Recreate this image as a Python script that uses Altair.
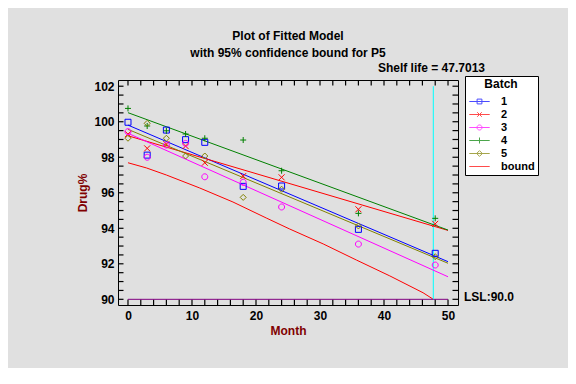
import altair as alt
import pandas as pd

# ---------------- data ----------------
months = [0, 3, 6, 9, 12, 18, 24, 36, 48]
batch_names = ["1", "2", "3", "4", "5"]
batch1 = [99.97, 98.12, 99.53, 98.99, 98.84, 96.36, 96.38, 93.94, 92.59]
batch2 = [99.30, 98.50, 98.74, 98.63, 97.69, 96.94, 96.87, 95.07, 94.25]
batch3 = [99.44, 98.00, 98.69, 98.78, 96.90, 96.59, 95.20, 93.11, 91.93]
batch4 = [100.75, 99.76, 99.49, 99.31, 99.07, 98.97, 97.24, 94.84, 94.56]
batch5 = [99.07, 99.91, 99.07, 98.07, 98.07, 95.74, 96.20, 94.13, 92.40]

fit_months = [0, 50]
fit_start = [99.81, 99.21, 99.35, 100.51, 99.57]   # fitted value at month 0
fit_end = [92.12, 93.88, 91.27, 93.90, 92.03]      # fitted value at month 50

bound_months = [0, 2.87, 6.0, 11.2, 16.4, 21.6, 25.2, 30.5, 35.7, 40.9, 46.1, 47.7013]
bound_values = [97.69, 97.40, 97.00, 96.27, 95.48, 94.58, 93.97, 93.12, 92.21, 91.32, 90.37, 90.0]

shelf_life = 47.7013
lsl = 90.0
legend_entries = ["1", "2", "3", "4", "5", "bound"]
x_ticks = [0, 10, 20, 30, 40, 50]
y_ticks = [90, 92, 94, 96, 98, 100, 102]
x_minor = [2 * i for i in range(26)]
y_minor = [90 + 0.5 * i for i in range(25)]

# ---------------- styling ----------------
FONT = "Liberation Sans"
colors = ["#0000ff", "#ff0000", "#ff00ff", "#008000", "#808000"]
bound_color = "#ff0000"
marker_paths = [
    "M-1,-1H1V1H-1Z",                       # square
    "M-1,-1L1,1M-1,1L1,-1",                 # x
    "M1,0A1,1,0,1,1,-1,0A1,1,0,1,1,1,0",     # circle
    "M-1,0H1M0,-1V1",                       # plus
    "M-1,0L0,-1L1,0L0,1Z",                  # diamond
]
L = "M-1.7,0H1.7"
legend_paths = [
    L + "M-0.4,-0.4H0.4V0.4H-0.4Z",
    L + "M-0.38,-0.38L0.38,0.38M-0.38,0.38L0.38,-0.38",
    L + "M0.42,0A0.42,0.42,0,1,1,-0.42,0A0.42,0.42,0,1,1,0.42,0",
    L + "M0,-0.5V0.5",
    L + "M-0.48,0L0,-0.48L0.48,0L0,0.48Z",
    L,
]

X_DOM = [-1.56, 51.56]
Y_DOM = [89.68, 102.35]
W, H = 340, 225
TICK = "#000000"

series = [batch1, batch2, batch3, batch4, batch5]
pts = pd.DataFrame(
    [{"Batch": b, "Month": m, "Drug": v}
     for b, vals in zip(batch_names, series) for m, v in zip(months, vals)]
)
fits = pd.DataFrame(
    [{"Batch": b, "Month": m, "Drug": v}
     for b, s, e in zip(batch_names, fit_start, fit_end) for m, v in zip(fit_months, [s, e])]
)
bound = pd.DataFrame({"Month": bound_months, "Drug": bound_values})
lsl_df = pd.DataFrame({"m0": [fit_months[0]], "m1": [fit_months[-1]], "v": [lsl]})
shelf_df = pd.DataFrame({"m": [shelf_life], "v0": [lsl], "v1": [102.0]})
leg_df = pd.DataFrame({"Batch": legend_entries})
xt_df = pd.DataFrame({"t": x_minor})
yt_df = pd.DataFrame({"t": y_minor})

NOAX = dict(axis=None)
layers = []

# bound curve (carries the labelled axes)
layers.append(
    alt.Chart(bound).mark_line(color=bound_color, strokeWidth=1).encode(
        x=alt.X("Month:Q", scale=alt.Scale(domain=X_DOM, nice=False, zero=False),
                axis=alt.Axis(values=x_ticks, ticks=False, domain=False, grid=False,
                              labelPadding=5, title="Month", titlePadding=4)),
        y=alt.Y("Drug:Q", scale=alt.Scale(domain=Y_DOM, nice=False, zero=False),
                axis=alt.Axis(values=y_ticks, ticks=False, domain=False,
                              grid=False, labelPadding=4, title="Drug%", titlePadding=4)),
    )
)

# inward tick marks on all four sides of the frame (clipped to the plot area)
for edge in (0, H):
    layers.append(
        alt.Chart(xt_df).mark_tick(color=TICK, thickness=1.2, size=11, clip=True, opacity=1)
        .encode(x=alt.X("t:Q", **NOAX), y=alt.value(edge))
    )
for edge in (0, W):
    layers.append(
        alt.Chart(yt_df).mark_tick(color=TICK, thickness=1.2, size=11, clip=True, opacity=1)
        .encode(y=alt.Y("t:Q", **NOAX), x=alt.value(edge))
    )

# LSL line and shelf-life line
layers.append(
    alt.Chart(lsl_df).mark_rule(color="#800080", strokeWidth=1).encode(
        x=alt.X("m0:Q", **NOAX), x2="m1:Q", y=alt.Y("v:Q", **NOAX))
)
layers.append(
    alt.Chart(shelf_df).mark_rule(color="#00ffff", strokeWidth=1).encode(
        x=alt.X("m:Q", **NOAX), y=alt.Y("v0:Q", **NOAX), y2="v1:Q")
)

for b, c in zip(batch_names, colors):
    layers.append(
        alt.Chart(fits).transform_filter(alt.datum.Batch == b).mark_line(color=c, strokeWidth=1)
        .encode(x=alt.X("Month:Q", **NOAX), y=alt.Y("Drug:Q", **NOAX))
    )
for b, c, p in zip(batch_names, colors, marker_paths):
    layers.append(
        alt.Chart(pts).transform_filter(alt.datum.Batch == b)
        .mark_point(shape=p, color=c, filled=False, size=36, strokeWidth=1, opacity=1)
        .encode(x=alt.X("Month:Q", **NOAX), y=alt.Y("Drug:Q", **NOAX))
    )

# annotations
layers.append(
    alt.Chart(pd.DataFrame({"t": [f"Shelf life = {shelf_life}"]})).mark_text(
        align="right", baseline="middle", dx=27, dy=-12, fontSize=12, fontWeight="bold", color="black"
    ).encode(x=alt.XDatum(X_DOM[1], axis=None), y=alt.YDatum(Y_DOM[1], axis=None), text="t:N")
)
layers.append(
    alt.Chart(pd.DataFrame({"t": [f"LSL:{lsl:.1f}"]})).mark_text(
        align="left", baseline="middle", dx=6, dy=-2, fontSize=12, fontWeight="bold", color="black"
    ).encode(x=alt.XDatum(X_DOM[1], axis=None), y=alt.YDatum(lsl, axis=None), text="t:N")
)

# legend layer (no marks drawn, only its legend)
leg = alt.Legend(title="Batch", orient="none", legendX=347, legendY=-4, fillColor="white",
                 strokeColor="black", padding=3, titleAnchor="middle", titleFontSize=12,
                 titleFontWeight="bold", titleColor="black", titlePadding=4, labelFontSize=11,
                 labelFontWeight="bold", labelColor="black", symbolSize=144, symbolStrokeWidth=1,
                 symbolOffset=5, labelOffset=15, rowPadding=1, cornerRadius=0)
layers.append(
    alt.Chart(leg_df).transform_filter("false").mark_point(filled=False, strokeWidth=1).encode(
        color=alt.Color("Batch:N", scale=alt.Scale(domain=legend_entries, range=colors + [bound_color]),
                        legend=leg),
        shape=alt.Shape("Batch:N", scale=alt.Scale(domain=legend_entries, range=legend_paths),
                        legend=leg),
    )
)

chart = alt.layer(*layers).resolve_axis(x="independent", y="independent").properties(
    width=W, height=H,
    autosize=alt.AutoSizeParams(type="none"),
    padding={"left": 110, "top": 72, "right": 110, "bottom": 63},
    background="#e0e0e0",
    title=alt.Title(["Plot of Fitted Model", "with 95% confidence bound for P5"], anchor="middle",
                    fontSize=12, fontWeight="bold", color="black", offset=2, lineHeight=17, font=FONT),
).configure(font=FONT).configure_view(stroke="black", strokeWidth=1, fill="white").configure_axis(
    labelFont=FONT, labelFontSize=12, labelFontWeight="bold", labelColor="black",
    titleFont=FONT, titleFontSize=12, titleFontWeight="bold", titleColor="#800000"
).configure_legend(labelFont=FONT, titleFont=FONT)

chart.save("out.html", embed_options={"renderer": "svg", "actions": False})
